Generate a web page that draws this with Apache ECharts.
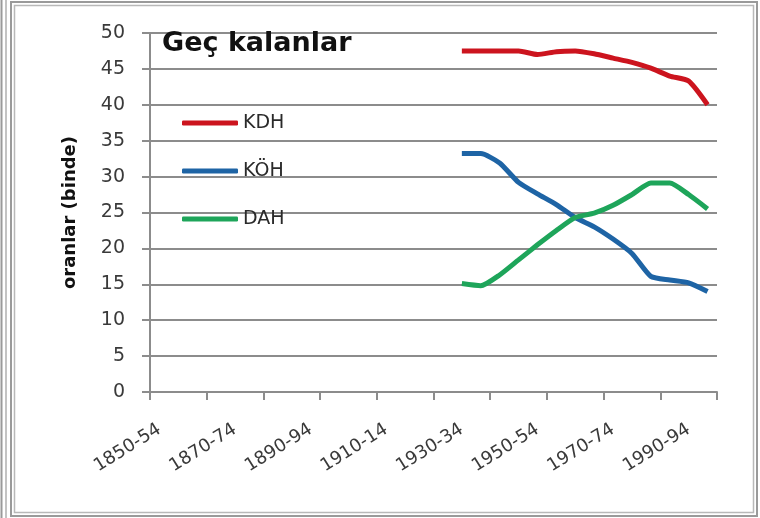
<!DOCTYPE html>
<html>
<head>
<meta charset="utf-8">
<script src="https://cdn.jsdelivr.net/npm/echarts@6/dist/echarts.min.js"></script>
<style>
  html, body { margin: 0; padding: 0; background: #fff; }
  #chart { width: 760px; height: 518px; }
</style>
</head>
<body>
<div id="chart"></div>
<script>
// 5 yillik donemler
const periods = [
  '1850-54', '1855-59', '1860-64', '1865-69', '1870-74', '1875-79',
  '1880-84', '1885-89', '1890-94', '1895-99', '1900-04', '1905-09',
  '1910-14', '1915-19', '1920-24', '1925-29', '1930-34', '1935-39',
  '1940-44', '1945-49', '1950-54', '1955-59', '1960-64', '1965-69',
  '1970-74', '1975-79', '1980-84', '1985-89', '1990-94', '1995-99'
];
const seriesNames = ['KDH', 'KÖH', 'DAH'];
const kdh = [
  null, null, null, null, null, null, null, null, null, null, null, null, null, null, null, null,
  47.5, 47.5, 47.5, 47.5, 47.0, 47.4, 47.5, 47.1, 46.5, 45.9, 45.1, 44.0, 43.3, 40.0
];
const koh = [
  null, null, null, null, null, null, null, null, null, null, null, null, null, null, null, null,
  33.2, 33.2, 31.9, 29.2, 27.6, 26.1, 24.3, 23.0, 21.3, 19.3, 16.1, 15.6, 15.2, 14.0
];
const dah = [
  null, null, null, null, null, null, null, null, null, null, null, null, null, null, null, null,
  15.1, 14.8, 16.3, 18.4, 20.5, 22.5, 24.3, 24.9, 26.0, 27.5, 29.1, 29.1, 27.5, 25.5
];
const colors = ['#cc141e', '#1e64a5', '#1ea55a'];

const chart = echarts.init(document.getElementById('chart'));
const font = 'DejaVu Sans';
const gridColor = '#8c8c8c';

function lineSeries(name, data, color) {
  return {
    name: name,
    type: 'line',
    data: data,
    smooth: 0.2,
    symbol: 'none',
    lineStyle: { color: color, width: 5 },
    itemStyle: { color: color }
  };
}

const option = {
  animation: false,
  backgroundColor: '#fff',
  textStyle: { fontFamily: font },
  title: {
    text: 'Geç kalanlar',
    left: 162,
    top: 30,
    padding: 0,
    textStyle: { fontFamily: font, fontSize: 27, fontWeight: 'bold', color: '#111' }
  },
  legend: {
    orient: 'vertical',
    left: 182,
    top: 113,
    itemWidth: 56,
    itemHeight: 5,
    itemGap: 28,
    icon: 'roundRect',
    padding: 0,
    data: seriesNames,
    textStyle: { fontFamily: font, fontSize: 19, color: '#2a2a2a', lineHeight: 20 }
  },
  grid: { left: 150, right: 43, top: 33, bottom: 126, containLabel: false },
  xAxis: {
    type: 'category',
    data: periods,
    boundaryGap: true,
    axisLine: { lineStyle: { color: gridColor, width: 2 } },
    axisTick: { show: true, interval: 2, length: 8, lineStyle: { color: gridColor, width: 2 } },
    axisLabel: {
      interval: 3,
      rotate: 32,
      margin: 36,
      fontFamily: font,
      fontSize: 18,
      color: '#3a3a3a'
    },
    splitLine: { show: false }
  },
  yAxis: {
    type: 'value',
    min: 0,
    max: 50,
    interval: 5,
    name: 'oranlar (binde)',
    nameLocation: 'middle',
    nameRotate: 90,
    nameGap: 71,
    nameTextStyle: { fontFamily: font, fontSize: 18, fontWeight: 'bold', color: '#111' },
    axisLine: { show: true, lineStyle: { color: gridColor, width: 2 } },
    axisTick: { show: true, length: 8, lineStyle: { color: gridColor, width: 2 } },
    axisLabel: { margin: 25, fontFamily: font, fontSize: 19, color: '#3a3a3a' },
    splitLine: { show: true, lineStyle: { color: gridColor, width: 2 } }
  },
  graphic: [
    // cerceveler
    { type: 'rect', silent: true, shape: { x: 1.5, y: -5, width: 0, height: 530 },
      style: { fill: null, stroke: '#9a9a9a', lineWidth: 2 } },
    { type: 'rect', silent: true, shape: { x: 6, y: -5, width: 0, height: 530 },
      style: { fill: null, stroke: '#b0b0b0', lineWidth: 1.5 } },
    { type: 'rect', silent: true, shape: { x: 11, y: 2, width: 746, height: 514 },
      style: { fill: null, stroke: '#9a9a9a', lineWidth: 2 } },
    { type: 'rect', silent: true, shape: { x: 14.5, y: 5.5, width: 739, height: 507 },
      style: { fill: null, stroke: '#b8b8b8', lineWidth: 1.5 } }
  ],
  series: [
    lineSeries(seriesNames[0], kdh, colors[0]),
    lineSeries(seriesNames[1], koh, colors[1]),
    lineSeries(seriesNames[2], dah, colors[2])
  ]
};

chart.setOption(option);
</script>
</body>
</html>
